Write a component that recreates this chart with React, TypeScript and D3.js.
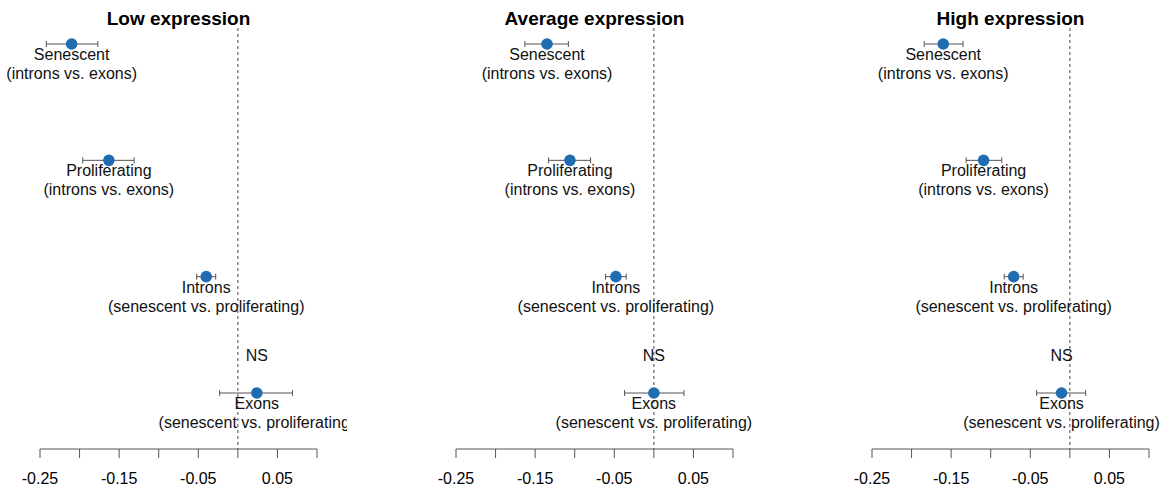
import React from "react";
import * as d3 from "d3";

const panels = ["Low expression", "Average expression", "High expression"];
const rows = ["Senescent", "Proliferating", "Introns", "Exons"];
const rowSub = ["(introns vs. exons)", "(introns vs. exons)", "(senescent vs. proliferating)", "(senescent vs. proliferating)"];
const estLow = [-0.21, -0.163, -0.04, 0.024];
const loLow = [-0.242, -0.196, -0.052, -0.023];
const hiLow = [-0.177, -0.131, -0.028, 0.069];
const estAvg = [-0.135, -0.106, -0.048, 0.0];
const loAvg = [-0.163, -0.133, -0.061, -0.037];
const hiAvg = [-0.108, -0.08, -0.035, 0.038];
const estHigh = [-0.16, -0.109, -0.071, -0.0105];
const loHigh = [-0.184, -0.131, -0.083, -0.042];
const hiHigh = [-0.135, -0.086, -0.059, 0.02];
const nsFlags = [false, false, false, true];
const tickValues = [-0.25, -0.2, -0.15, -0.1, -0.05, 0, 0.05, 0.1];
const tickLabels = ["-0.25", "", "-0.15", "", "-0.05", "", "0.05", ""];

const panelData = [
  { est: estLow, lo: loLow, hi: hiLow },
  { est: estAvg, lo: loAvg, hi: hiAvg },
  { est: estHigh, lo: loHigh, hi: hiHigh },
];

const W = 1169;
const H = 489;
const offsets = [0, 416, 832];
const FONT = "Liberation Sans, Arial, Helvetica, sans-serif";

export default function App() {
  const y = d3.scalePoint<string>().domain(rows).range([44, 393]);
  return (
    <svg width={W} height={H} style={{ position: "absolute", left: 0, top: 0, fontFamily: FONT }}>
      <rect width={W} height={H} fill="white" />
      <defs>
        {offsets.map((o, i) => (
          <clipPath id={`clip${i}`} key={i}>
            <rect x={o} y={0} width={347} height={H} />
          </clipPath>
        ))}
      </defs>
      {panels.map((title, pi) => {
        const o = offsets[pi];
        const x = d3.scaleLinear().domain([-0.25, 0.1]).range([o + 40, o + 317]);
        const d = panelData[pi];
        const axisY = 449;
        return (
          <g key={pi} clipPath={`url(#clip${pi})`}>
            <text x={(x(-0.25) + x(0.1)) / 2} y={25} textAnchor="middle" fontWeight="bold" fontSize={19} fill="#000">
              {title}
            </text>
            <line x1={x(0)} x2={x(0)} y1={28} y2={axisY} stroke="#666" strokeWidth={1.2} strokeDasharray="3,3" />
            <line x1={x(-0.25)} x2={x(0.1)} y1={axisY} y2={axisY} stroke="#555" strokeWidth={1} />
            {tickValues.map((t, ti) => (
              <g key={ti}>
                <line x1={x(t)} x2={x(t)} y1={axisY} y2={axisY + 9} stroke="#555" strokeWidth={1} />
                {tickLabels[ti] && (
                  <text x={x(t)} y={484} textAnchor="middle" fontSize={16} fill="#000">
                    {tickLabels[ti]}
                  </text>
                )}
              </g>
            ))}
            {rows.map((r, ri) => {
              const yy = y(r) as number;
              return (
                <g key={r}>
                  <line x1={x(d.lo[ri])} x2={x(d.hi[ri])} y1={yy} y2={yy} stroke="#555" strokeWidth={1} />
                  <line x1={x(d.lo[ri])} x2={x(d.lo[ri])} y1={yy - 3} y2={yy + 3} stroke="#555" strokeWidth={1} />
                  <line x1={x(d.hi[ri])} x2={x(d.hi[ri])} y1={yy - 3} y2={yy + 3} stroke="#555" strokeWidth={1} />
                  <circle cx={x(d.est[ri])} cy={yy} r={5.8} fill="#1f6cb0" />
                  <text x={x(d.est[ri])} y={yy + 16} textAnchor="middle" fontSize={16} fill="#111">
                    {r}
                  </text>
                  <text x={x(d.est[ri])} y={yy + 35} textAnchor="middle" fontSize={16} fill="#111">
                    {rowSub[ri]}
                  </text>
                  {nsFlags[ri] && (
                    <text x={x(d.est[ri])} y={yy - 32} textAnchor="middle" fontSize={16} fill="#111">
                      NS
                    </text>
                  )}
                </g>
              );
            })}
          </g>
        );
      })}
    </svg>
  );
}
